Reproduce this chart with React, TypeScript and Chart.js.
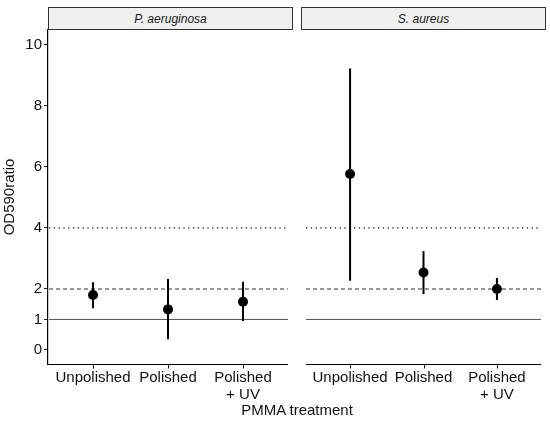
import React, { useEffect, useRef } from "react";
import { Chart, registerables } from "chart.js";

Chart.register(...registerables);

const categories = ["Unpolished", "Polished", "Polished\n+ UV"];
const panels = ["P. aeruginosa", "S. aureus"];
const meanPA = [1.8, 1.33, 1.58];
const lowPA = [1.37, 0.35, 0.95];
const highPA = [2.22, 2.33, 2.24];
const meanSA = [5.77, 2.54, 2.0];
const lowSA = [2.27, 1.83, 1.64];
const highSA = [9.23, 3.24, 2.36];
const yTicks = [0, 1, 2, 4, 6, 8, 10];
const refSolid = 1;
const refDashed = 2;
const refDotted = 4;

const FONT = "'Liberation Sans', Arial, Helvetica, sans-serif";

function makeChart(
  canvas: HTMLCanvasElement,
  mean: number[],
  low: number[],
  high: number[],
  showY: boolean
) {
  const overlay = {
    id: "overlay",
    beforeDatasetsDraw(chart: any) {
      const ctx = chart.ctx;
      const ys = chart.scales.y;
      const xs = chart.scales.x;
      const area = chart.chartArea;
      ctx.save();
      const hline = (v: number, dash: number[], color: string, w: number) => {
        const py = ys.getPixelForValue(v);
        ctx.beginPath();
        ctx.setLineDash(dash);
        ctx.strokeStyle = color;
        ctx.lineWidth = w;
        ctx.moveTo(area.left + (showY ? 1 : 0), py);
        ctx.lineTo(area.right, py);
        ctx.stroke();
      };
      hline(refSolid, [], "#555555", 1);
      hline(refDashed, [4, 3], "#333333", 1.1);
      hline(refDotted, [1.3, 3.5], "#111111", 1.3);
      ctx.setLineDash([]);
      ctx.strokeStyle = "#000";
      ctx.lineWidth = 2;
      for (let i = 0; i < mean.length; i++) {
        const px = xs.getPixelForValue(i + 1);
        ctx.beginPath();
        ctx.moveTo(px, ys.getPixelForValue(low[i]));
        ctx.lineTo(px, ys.getPixelForValue(high[i]));
        ctx.stroke();
      }
      // bottom axis line and tick marks
      const by = Math.round(area.bottom) + 0.5;
      ctx.strokeStyle = "#000";
      ctx.lineWidth = 1.2;
      ctx.beginPath();
      ctx.moveTo(area.left, by);
      ctx.lineTo(area.right, by);
      ctx.stroke();
      ctx.strokeStyle = "#222";
      ctx.lineWidth = 1;
      for (let i = 0; i < categories.length; i++) {
        const px = Math.round(xs.getPixelForValue(i + 1)) + 0.5;
        ctx.beginPath();
        ctx.moveTo(px, by);
        ctx.lineTo(px, by + 4);
        ctx.stroke();
      }
      ctx.restore();
    },
  };

  return new Chart(canvas, {
    type: "scatter",
    data: {
      datasets: [
        {
          data: mean.map((v, i) => ({ x: i + 1, y: v })),
          pointRadius: 5,
          pointBackgroundColor: "#000",
          pointBorderColor: "#000",
          pointBorderWidth: 0,
          pointHoverRadius: 5,
        },
      ],
    },
    options: {
      animation: false,
      responsive: false,
      devicePixelRatio: 1,
      layout: { padding: { top: 30, right: 0, left: 0, bottom: 0 } },
      plugins: { legend: { display: false }, tooltip: { enabled: false } },
      scales: {
        x: {
          type: "linear",
          min: 0.4,
          max: 3.6,
          afterBuildTicks: (s: any) => {
            s.ticks = categories.map((_, i) => ({ value: i + 1 }));
          },
          afterFit: (s: any) => {
            s.height = 59;
            s.paddingLeft = 0;
            s.paddingRight = 0;
          },
          ticks: {
            autoSkip: false,
            maxRotation: 0,
            padding: 2,
            color: "#111",
            font: { family: FONT, size: 15, lineHeight: 1.1 },
            callback: (v: any) => {
              const idx = Math.round(Number(v)) - 1;
              const c = categories[idx];
              return c ? c.split("\n") : "";
            },
          },
          grid: {
            display: false,
            drawTicks: true,
            tickLength: 4,
          },
          border: { display: false },
        },
        y: {
          type: "linear",
          min: -0.46,
          max: 10.49,
          display: true,
          afterBuildTicks: (s: any) => {
            s.ticks = yTicks.map((v) => ({ value: v }));
          },
          afterFit: (s: any) => {
            s.width = showY ? 48 : 0;
          },
          ticks: {
            display: showY,
            padding: 2,
            color: "#111",
            font: { family: FONT, size: 15 },
          },
          title: {
            display: showY,
            text: "OD590ratio",
            color: "#111",
            padding: { top: 1, bottom: 3 },
            font: { family: FONT, size: 15 },
          },
          grid: {
            display: showY,
            drawOnChartArea: false,
            drawTicks: true,
            tickLength: 4,
            tickColor: "#222",
            tickWidth: 1,
          },
          border: { display: showY, color: "#000", width: 1.2 },
        },
      },
    },
    plugins: [overlay],
  } as any);
}

const stripStyle = (left: number, width: number): React.CSSProperties => ({
  position: "absolute",
  left,
  top: 7,
  width: width - 2,
  height: 21,
  background: "#efefef",
  border: "1px solid #333",
  fontFamily: FONT,
  fontStyle: "italic",
  fontSize: 12,
  color: "#1a1a1a",
  display: "flex",
  alignItems: "center",
  justifyContent: "center",
});

export default function App() {
  const c1 = useRef<HTMLCanvasElement>(null);
  const c2 = useRef<HTMLCanvasElement>(null);
  useEffect(() => {
    document.body.style.margin = "0";
    const a = makeChart(c1.current!, meanPA, lowPA, highPA, true);
    const b = makeChart(c2.current!, meanSA, lowSA, highSA, false);
    return () => {
      a.destroy();
      b.destroy();
    };
  }, []);
  return (
    <div style={{ position: "relative", width: 550, height: 423, background: "#fff", overflow: "hidden" }}>
      <canvas
        ref={c1}
        width={293}
        height={423}
        style={{ position: "absolute", left: 0, top: 0, width: 293, height: 423 }}
      />
      <canvas
        ref={c2}
        width={245}
        height={423}
        style={{ position: "absolute", left: 301, top: 0, width: 245, height: 423 }}
      />
      <div style={stripStyle(48, 245)}>{panels[0]}</div>
      <div style={stripStyle(301, 245)}>{panels[1]}</div>
      <div
        style={{
          position: "absolute",
          left: 48,
          width: 498,
          top: 401,
          textAlign: "center",
          fontFamily: FONT,
          fontSize: 15,
          color: "#111",
        }}
      >
        PMMA treatment
      </div>
    </div>
  );
}
